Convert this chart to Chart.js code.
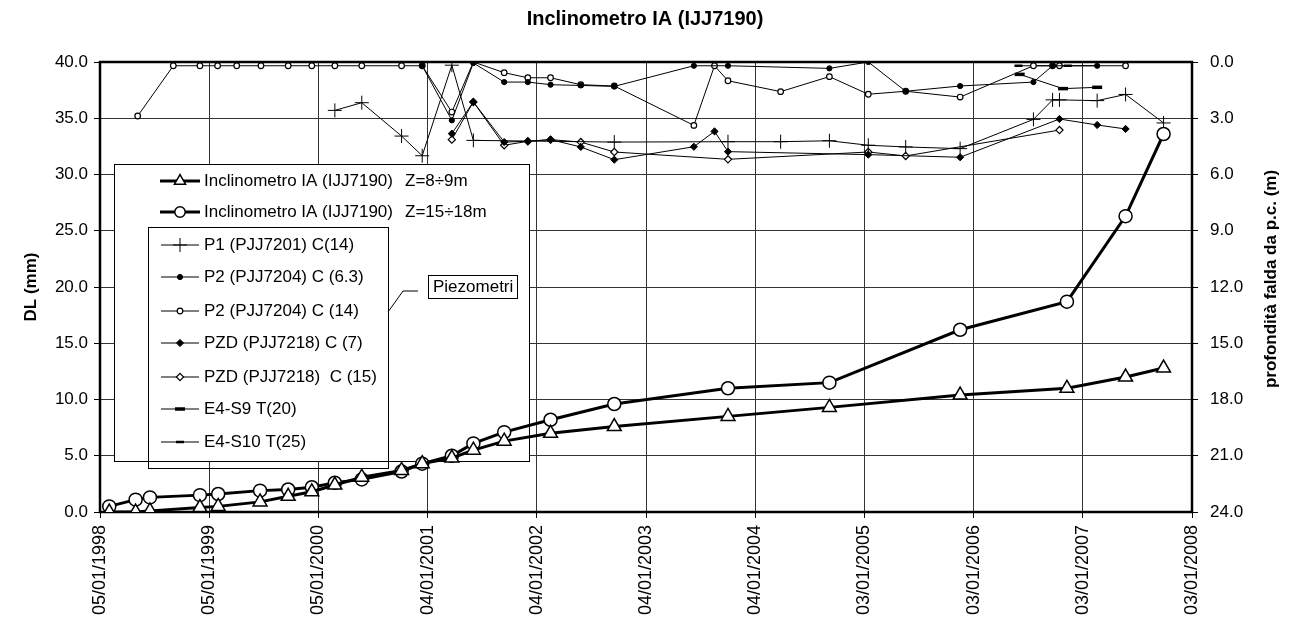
<!DOCTYPE html>
<html>
<head>
<meta charset="utf-8">
<script src="https://cdn.jsdelivr.net/npm/chart.js@4.4.0/dist/chart.umd.min.js"></script>
<style>
    html, body { margin: 0; padding: 0; background: #fff; }
</style>
</head>
<body>
<canvas id="my-chart" width="1291" height="627"></canvas>
<script>
// inclinometer readings (DL in mm)
const inclDates = ['1998-02-05', '1998-05-04', '1998-06-21', '1998-12-05', '1999-02-04', '1999-06-24', '1999-09-26',
    '1999-12-14', '2000-02-29', '2000-05-29', '2000-10-09', '2000-12-17', '2001-03-26', '2001-06-06', '2001-09-17',
    '2002-02-19', '2002-09-20', '2003-10-05', '2004-09-08', '2005-11-19', '2006-11-11', '2007-05-26', '2007-09-30'];
const inclZ8 = [0.0, 0.0, 0.1, 0.4, 0.5, 0.9, 1.4, 1.8, 2.4, 3.1, 3.7, 4.3, 4.8, 5.5, 6.3, 7.0, 7.6, 8.5, 9.3, 10.4, 11.0, 12.0, 12.8];
const inclZ15 = [0.5, 1.1, 1.3, 1.5, 1.6, 1.9, 2.0, 2.2, 2.6, 2.9, 3.6, 4.3, 5.0, 6.1, 7.1, 8.2, 9.6, 11.0, 11.5, 16.2, 18.7, 26.3, 33.6];

// piezometers, depth of water table from ground level (m)
const p1Dates = ['2000-02-29', '2000-05-29', '2000-10-09', '2000-12-17', '2001-03-26', '2001-06-06', '2002-09-20',
    '2003-10-05', '2004-03-29', '2004-09-08', '2005-01-16', '2005-05-21', '2005-11-19', '2006-07-22', '2006-09-24',
    '2006-10-17', '2007-02-20', '2007-05-26', '2007-09-30'];
const p1Depth = [2.58, 2.17, 3.95, 5.0, 0.17, 4.18, 4.27, 4.25, 4.25, 4.2, 4.44, 4.53, 4.62, 3.06, 2.02, 2.02, 2.06, 1.73, 3.25];

const p2aDates = ['2000-12-17', '2001-03-26', '2001-06-06', '2001-09-17', '2001-12-05', '2002-02-19', '2002-05-31',
    '2002-09-20', '2003-06-13', '2003-10-05', '2004-09-08', '2005-01-16', '2005-05-21', '2005-11-19', '2006-07-22',
    '2006-09-24', '2007-02-20'];
const p2aDepth = [0.2, 3.11, 0.05, 1.07, 1.07, 1.21, 1.25, 1.3, 0.2, 0.2, 0.34, 0.0, 1.56, 1.28, 1.07, 0.2, 0.2];

const p2bDates = ['1998-05-11', '1998-09-07', '1998-12-05', '1999-02-02', '1999-04-07', '1999-06-27', '1999-09-26',
    '1999-12-14', '2000-02-29', '2000-05-29', '2000-10-09', '2000-12-17', '2001-03-26', '2001-06-06', '2001-09-17',
    '2001-12-05', '2002-02-19', '2002-05-31', '2002-09-20', '2003-06-13', '2003-08-21', '2003-10-05', '2004-03-29',
    '2004-09-08', '2005-01-16', '2005-05-21', '2005-11-19', '2006-07-22', '2006-09-24', '2006-10-17', '2007-05-26'];
const p2bDepth = [2.88, 0.2, 0.2, 0.2, 0.2, 0.2, 0.2, 0.2, 0.2, 0.2, 0.2, 0.2, 2.67, 0.0, 0.57, 0.84, 0.84, 1.21, 1.28,
    3.38, 0.2, 1.0, 1.58, 0.78, 1.72, 1.56, 1.87, 0.2, 0.2, 0.2, 0.2];

const pzdaDates = ['2001-03-26', '2001-06-06', '2001-09-17', '2001-12-05', '2002-02-19', '2002-05-31', '2002-09-20',
    '2003-06-13', '2003-08-21', '2003-10-05', '2005-01-16', '2005-11-19', '2006-10-17', '2007-02-20', '2007-05-26'];
const pzdaDepth = [3.82, 2.13, 4.27, 4.23, 4.14, 4.53, 5.21, 4.52, 3.7, 4.78, 4.94, 5.08, 3.04, 3.36, 3.57];

const pzdbDates = ['2001-03-26', '2001-06-06', '2001-09-17', '2001-12-05', '2002-02-19', '2002-05-31', '2002-09-20',
    '2003-10-05', '2005-01-16', '2005-05-21', '2006-10-17'];
const pzdbDepth = [4.14, 2.13, 4.44, 4.23, 4.14, 4.27, 4.8, 5.19, 4.8, 5.01, 3.63];

const s9Dates = ['2006-06-06', '2006-10-29', '2007-02-20'];
const s9Depth = [0.66, 1.42, 1.35];
const s10Dates = ['2006-06-02', '2006-11-14'];
const s10Depth = [0.2, 0.2];

const DAY = 864e5;
const startDate = Date.parse('1998-01-05');
const FONT = '"Liberation Sans", Arial, sans-serif';

function dayOf(s) {
    return Math.round((Date.parse(s) - startDate) / DAY);
}

function toPoints(dates, values) {
    return dates.map((d, i) => ({ x: dayOf(d), y: values[i] }));
}

function fmtDate(v) {
    const d = new Date(startDate + v * DAY);
    const dd = String(d.getUTCDate()).padStart(2, '0');
    const mm = String(d.getUTCMonth() + 1).padStart(2, '0');
    return `${dd}/${mm}/${d.getUTCFullYear()}`;
}

const inclStyle = { borderColor: '#000', borderWidth: 3, pointBorderWidth: 1.5, pointBackgroundColor: '#fff', pointBorderColor: '#000' };
const piezoStyle = { borderColor: '#000', borderWidth: 1, pointBorderColor: '#000' };

const series = [
    { label: 'Inclinometro IA (IJJ7190)', extra: 'Z=8÷9m', data: toPoints(inclDates, inclZ8), yAxisID: 'y',
        ...inclStyle, pointStyle: 'triangle', pointRadius: 8 },
    { label: 'Inclinometro IA (IJJ7190)', extra: 'Z=15÷18m', data: toPoints(inclDates, inclZ15), yAxisID: 'y',
        ...inclStyle, pointStyle: 'circle', pointRadius: 6.5 },
    { label: 'P1 (PJJ7201) C(14)', data: toPoints(p1Dates, p1Depth), yAxisID: 'y2',
        ...piezoStyle, pointStyle: 'cross', pointRadius: 7, pointBorderWidth: 1 },
    { label: 'P2 (PJJ7204) C (6.3)', data: toPoints(p2aDates, p2aDepth), yAxisID: 'y2',
        ...piezoStyle, pointStyle: 'circle', pointRadius: 2.6, pointBorderWidth: 1, pointBackgroundColor: '#000' },
    { label: 'P2 (PJJ7204) C (14)', data: toPoints(p2bDates, p2bDepth), yAxisID: 'y2',
        ...piezoStyle, pointStyle: 'circle', pointRadius: 2.8, pointBorderWidth: 1.2, pointBackgroundColor: '#fff' },
    { label: 'PZD (PJJ7218) C (7)', data: toPoints(pzdaDates, pzdaDepth), yAxisID: 'y2',
        ...piezoStyle, pointStyle: 'rectRot', pointRadius: 3.6, pointBorderWidth: 1, pointBackgroundColor: '#000' },
    { label: 'PZD (PJJ7218)  C (15)', data: toPoints(pzdbDates, pzdbDepth), yAxisID: 'y2',
        ...piezoStyle, pointStyle: 'rectRot', pointRadius: 3.6, pointBorderWidth: 1.2, pointBackgroundColor: '#fff' },
    { label: 'E4-S9 T(20)', data: toPoints(s9Dates, s9Depth), yAxisID: 'y2',
        ...piezoStyle, pointStyle: 'line', pointRadius: 5, pointBorderWidth: 3.5 },
    { label: 'E4-S10 T(25)', data: toPoints(s10Dates, s10Depth), yAxisID: 'y2',
        ...piezoStyle, pointStyle: 'line', pointRadius: 4, pointBorderWidth: 2.5 }
];

const legendRows = [181, 212, 245, 277, 311, 343, 377, 409, 442];

function drawLegend(ctx) {
    ctx.save();
    ctx.textBaseline = 'middle';
    ctx.fillStyle = '#fff';
    ctx.fillRect(114, 164, 415, 297);
    ctx.strokeStyle = '#000';
    ctx.lineWidth = 1;
    ctx.strokeRect(148.5, 227.5, 240, 241);
    ctx.strokeRect(114.5, 164.5, 415, 297);

    ctx.font = `17px ${FONT}`;
    ctx.textAlign = 'left';
    series.forEach((s, i) => {
        const y = legendRows[i];
        const thick = s.yAxisID === 'y';
        ctx.strokeStyle = '#000';
        ctx.lineWidth = thick ? 3 : 1;
        ctx.beginPath();
        ctx.moveTo(thick ? 160 : 161, y);
        ctx.lineTo(thick ? 200 : 199, y);
        ctx.stroke();
        ctx.fillStyle = s.pointBackgroundColor || '#000';
        ctx.lineWidth = s.pointBorderWidth;
        const r = thick ? s.pointRadius * 0.8 : s.pointRadius;
        Chart.helpers.drawPoint(ctx, { pointStyle: s.pointStyle, radius: r, borderWidth: s.pointBorderWidth, rotation: 0 }, 180, y);
        ctx.fillStyle = '#000';
        ctx.fillText(s.label, 204, y);
        if (s.extra) ctx.fillText(s.extra, 405, y);
    });

    // callout for the piezometer group
    ctx.strokeStyle = '#000';
    ctx.lineWidth = 1;
    ctx.beginPath();
    ctx.moveTo(388, 312);
    ctx.lineTo(403, 291);
    ctx.lineTo(418, 291);
    ctx.stroke();
    ctx.fillStyle = '#fff';
    ctx.fillRect(428, 275, 89, 23);
    ctx.strokeRect(428.5, 275.5, 89, 23);
    ctx.fillStyle = '#000';
    ctx.fillText('Piezometri', 433, 287);
    ctx.restore();
}

// frame, legend (under the series), titles
const decorations = {
    id: 'decorations',
    beforeDatasetsDraw(chart) {
        const { ctx, chartArea: a } = chart;
        ctx.save();
        ctx.strokeStyle = '#000';
        ctx.lineWidth = 2.5;
        ctx.strokeRect(a.left, a.top, a.right - a.left, a.bottom - a.top);
        ctx.restore();
        drawLegend(ctx);
    },
    afterDatasetsDraw(chart) {
        const ctx = chart.ctx;
        ctx.save();
        ctx.fillStyle = '#000';
        ctx.textBaseline = 'middle';
        ctx.textAlign = 'center';

        ctx.font = `bold 20px ${FONT}`;
        ctx.fillText('Inclinometro IA (IJJ7190)', 645, 19);

        ctx.font = `bold 17px ${FONT}`;
        ctx.save();
        ctx.translate(31, 287);
        ctx.rotate(-Math.PI / 2);
        ctx.fillText('DL (mm)', 0, 0);
        ctx.restore();

        ctx.save();
        ctx.translate(1271, 279);
        ctx.rotate(-Math.PI / 2);
        ctx.fillText('profondità falda da p.c. (m)', 0, 0);
        ctx.restore();
        ctx.restore();
    }
};

const tickFont = { family: FONT, size: 17 };

new Chart(document.getElementById('my-chart').getContext('2d'), {
    type: 'line',
    data: {
        datasets: series.map(s => ({ ...s, tension: 0, fill: false }))
    },
    options: {
        responsive: false,
        animation: false,
        layout: { padding: { top: 62, left: 0, right: 0, bottom: 0 } },
        plugins: { legend: { display: false }, tooltip: { enabled: false }, title: { display: false } },
        scales: {
            x: {
                type: 'linear',
                min: 0,
                max: 3650,
                afterBuildTicks: scale => {
                    scale.ticks = Array.from({ length: 11 }, (_, i) => ({ value: i * 365 }));
                },
                afterFit: scale => { scale.height = 115; },
                ticks: {
                    callback: v => fmtDate(v),
                    autoSkip: false,
                    maxRotation: 90,
                    minRotation: 90,
                    padding: 7,
                    color: '#000',
                    font: { family: FONT, size: 18 }
                },
                grid: { color: '#333', lineWidth: 1, tickLength: 6, tickColor: '#000' },
                border: { display: false }
            },
            y: {
                position: 'left',
                min: 0,
                max: 40,
                afterFit: scale => { scale.width = 100; },
                ticks: { stepSize: 5, callback: v => v.toFixed(1), padding: 6, color: '#000', font: tickFont },
                grid: { color: '#333', lineWidth: 1, tickLength: 6, tickColor: '#000' },
                border: { display: false }
            },
            y2: {
                position: 'right',
                reverse: true,
                min: 0,
                max: 24,
                afterFit: scale => { scale.width = 99; },
                ticks: { stepSize: 3, callback: v => v.toFixed(1), padding: 12, color: '#000', font: tickFont },
                grid: { drawOnChartArea: false, tickLength: 6, tickColor: '#000' },
                border: { display: false }
            }
        }
    },
    plugins: [decorations]
});
</script>
</body>
</html>
